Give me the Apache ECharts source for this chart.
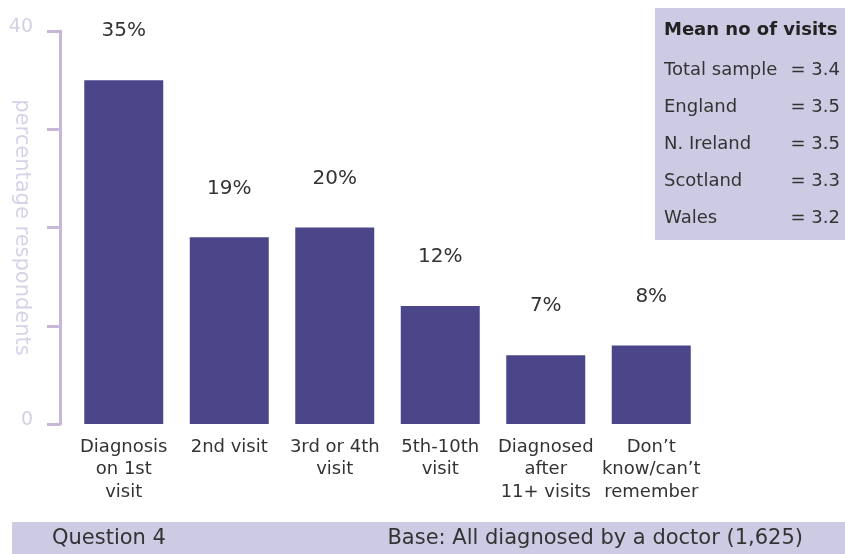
<!DOCTYPE html>
<html>
<head>
<meta charset="utf-8">
<script src="https://cdn.jsdelivr.net/npm/echarts@6/dist/echarts.min.js"></script>
<style>
  html, body { margin: 0; padding: 0; background: #fff; }
  #chart { width: 845px; height: 554px; }
</style>
</head>
<body>
<div id="chart"></div>
<script>
// categories and values
const categories = [
  'Diagnosis\non 1st\nvisit',
  '2nd visit',
  '3rd or 4th\nvisit',
  '5th-10th\nvisit',
  'Diagnosed\nafter\n11+ visits',
  'Don\u2019t\nknow/can\u2019t\nremember'
];
const percents = [35, 19, 20, 12, 7, 8];
const yTicks = [0, 10, 20, 30, 40];
const shownTickLabels = [0, 40];

// box of mean number of visits
const meanTitle = 'Mean no of visits';
const meanRegions = ['Total sample', 'England', 'N. Ireland', 'Scotland', 'Wales'];
const meanVisits = [3.4, 3.5, 3.5, 3.3, 3.2];

const footLeft = 'Question 4';
const footRight = 'Base: All diagnosed by a doctor (1,625)';

const font = 'DejaVu Sans';
const lavender = '#cdcbe3';

const chart = echarts.init(document.getElementById('chart'));

const graphic = [
  { type: 'rect', shape: { x: 655, y: 8, width: 190, height: 232 }, style: { fill: lavender }, silent: true },
  { type: 'text', x: 664, y: 30, style: { text: meanTitle, font: 'bold 18px "' + font + '"', fill: '#222', verticalAlign: 'middle' } },
  { type: 'rect', shape: { x: 12, y: 522, width: 833, height: 32 }, style: { fill: lavender }, silent: true },
  { type: 'text', x: 52, y: 539, style: { text: footLeft, font: '21px "' + font + '"', fill: '#333', verticalAlign: 'middle' } },
  { type: 'text', x: 803, y: 539, style: { text: footRight, font: '21px "' + font + '"', fill: '#333', align: 'right', verticalAlign: 'middle' } }
];
meanRegions.forEach((r, i) => {
  const y = 70 + i * 37;
  graphic.push({ type: 'text', x: 664, y: y, style: { text: r, font: '18px "' + font + '"', fill: '#333', verticalAlign: 'middle' } });
  graphic.push({ type: 'text', x: 840, y: y, style: { text: '= ' + meanVisits[i].toFixed(1), font: '18px "' + font + '"', fill: '#333', align: 'right', verticalAlign: 'middle' } });
});

chart.setOption({
  animation: false,
  grid: { left: 71, right: 141, top: 31, bottom: 130, outerBoundsMode: 'none' },
  xAxis: {
    type: 'category',
    data: categories,
    axisLine: { show: false },
    axisTick: { show: false },
    axisLabel: {
      interval: 0,
      margin: 12,
      color: '#333',
      fontFamily: font,
      fontSize: 18,
      lineHeight: 22.5
    }
  },
  yAxis: {
    type: 'value',
    min: yTicks[0],
    max: yTicks[yTicks.length - 1],
    interval: 10,
    offset: 11,
    name: 'percentage respondents',
    nameLocation: 'middle',
    nameRotate: -90,
    nameGap: 28,
    nameMoveOverlap: false,
    nameTextStyle: { color: '#d6d3e8', fontFamily: font, fontSize: 21 },
    axisLine: { show: true, lineStyle: { color: '#c8b6d9', width: 3 } },
    axisTick: { show: true, length: 13, lineStyle: { color: '#c8b6d9', width: 3 } },
    splitLine: { show: false },
    axisLabel: {
      margin: 27,
      color: '#d3d0e6',
      fontFamily: font,
      fontSize: 19,
      verticalAlign: 'bottom',
      lineHeight: 7,
      formatter: v => shownTickLabels.includes(v) ? String(v) : ''
    }
  },
  series: [{
    type: 'bar',
    data: percents,
    barWidth: 79,
    itemStyle: { color: '#4b4689' },
    label: {
      show: true,
      position: 'top',
      distance: 39,
      formatter: '{c}%',
      color: '#333',
      fontFamily: font,
      fontSize: 20
    }
  }],
  graphic: graphic
});
</script>
</body>
</html>
